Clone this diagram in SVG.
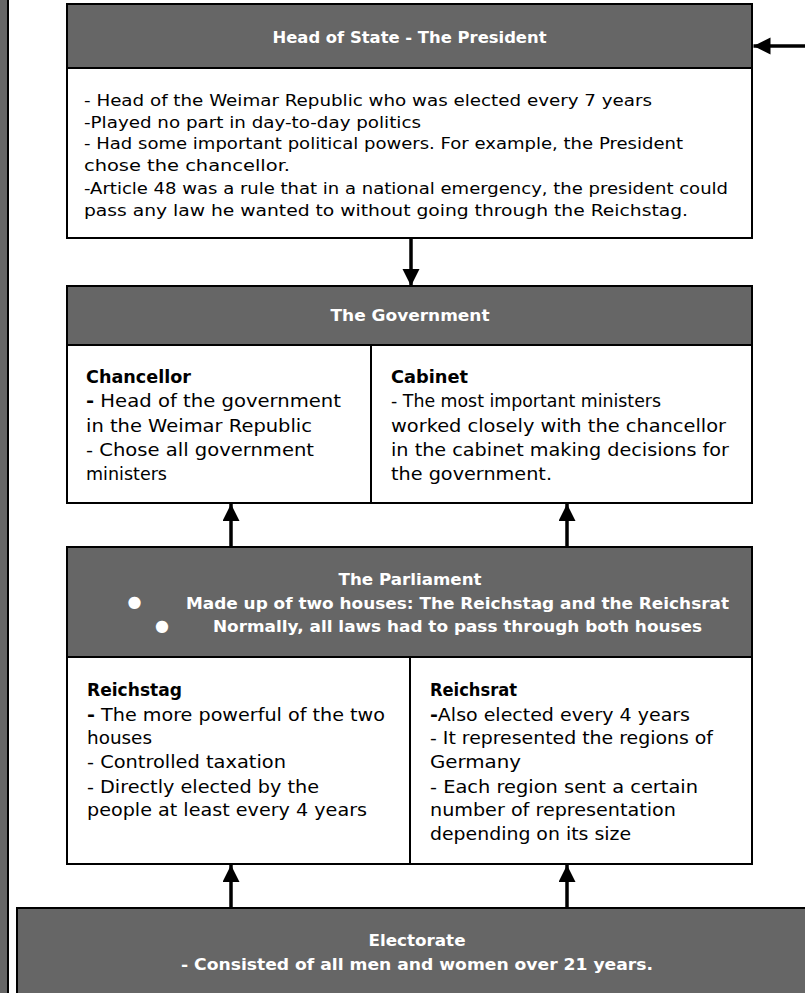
<svg xmlns="http://www.w3.org/2000/svg" width="805" height="993" viewBox="0 0 805 993">
<defs>
<style>
.hdr{fill:#666666;stroke:#000;stroke-width:2}
.body{fill:#ffffff;stroke:#000;stroke-width:2}
.div{stroke:#000;stroke-width:2}
.t{font-family:"DejaVu Sans","Liberation Sans",sans-serif;fill:#000}
.s15{font-size:16px}
.s16{font-size:17px}
.b{font-weight:bold}
.w{fill:#ffffff;font-weight:bold;font-family:"DejaVu Sans","Liberation Sans",sans-serif;font-size:16px}
.conn{stroke:#000;stroke-width:3.5;fill:none}
</style>
<marker id="ah" markerUnits="userSpaceOnUse" markerWidth="18" markerHeight="18" refX="17" refY="8.5" orient="auto">
<path d="M0,0 L17,8.5 L0,17 Z" fill="#000"/>
</marker>
</defs>
<rect width="805" height="993" fill="#ffffff"/>

<g id="left-panel">
<rect x="-20" y="-5" width="28" height="1010" class="hdr"/>
</g>

<g id="president">
<rect x="67" y="68" width="685" height="170" class="body"/>
<rect x="67" y="4" width="685" height="64" class="hdr"/>
<text x="409.5" y="43" class="w" text-anchor="middle" textLength="274" lengthAdjust="spacingAndGlyphs">Head of State - The President</text>
<text class="t s15" x="84" y="105.5" textLength="568" lengthAdjust="spacingAndGlyphs">- Head of the Weimar Republic who was elected every 7 years</text>
<text class="t s15" x="84" y="127.5" textLength="337" lengthAdjust="spacingAndGlyphs">-Played no part in day-to-day politics</text>
<text class="t s15" x="84" y="148.5" textLength="599" lengthAdjust="spacingAndGlyphs">- Had some important political powers. For example, the President</text>
<text class="t s15" x="84" y="170.5" textLength="206" lengthAdjust="spacingAndGlyphs">chose the chancellor.</text>
<text class="t s15" x="84" y="193.5" textLength="644" lengthAdjust="spacingAndGlyphs">-Article 48 was a rule that in a national emergency, the president could</text>
<text class="t s15" x="84" y="215.5" textLength="604" lengthAdjust="spacingAndGlyphs">pass any law he wanted to without going through the Reichstag.</text>
</g>

<g id="government">
<rect x="67" y="345" width="685" height="158" class="body"/>
<rect x="67" y="286" width="685" height="59" class="hdr"/>
<line x1="371" y1="345" x2="371" y2="503" class="div"/>
<text x="410" y="320.5" class="w" text-anchor="middle" textLength="159" lengthAdjust="spacingAndGlyphs">The Government</text>
<text class="t s16 b" x="86" y="383" textLength="105" lengthAdjust="spacingAndGlyphs">Chancellor</text>
<text class="t s16" x="86" y="407" textLength="255" lengthAdjust="spacingAndGlyphs"><tspan font-weight="bold">-</tspan> Head of the government</text>
<text class="t s16" x="86" y="431.5" textLength="226" lengthAdjust="spacingAndGlyphs">in the Weimar Republic</text>
<text class="t s16" x="86" y="455.5" textLength="228" lengthAdjust="spacingAndGlyphs">- Chose all government</text>
<text class="t s16" x="86" y="479.5" textLength="81" lengthAdjust="spacingAndGlyphs">ministers</text>
<text class="t s16 b" x="391" y="383" textLength="77" lengthAdjust="spacingAndGlyphs">Cabinet</text>
<text class="t s16" x="391" y="407" textLength="270" lengthAdjust="spacingAndGlyphs">- The most important ministers</text>
<text class="t s16" x="391" y="431.5" textLength="335" lengthAdjust="spacingAndGlyphs">worked closely with the chancellor</text>
<text class="t s16" x="391" y="455.5" textLength="338" lengthAdjust="spacingAndGlyphs">in the cabinet making decisions for</text>
<text class="t s16" x="391" y="479.5" textLength="161" lengthAdjust="spacingAndGlyphs">the government.</text>
</g>

<g id="parliament">
<rect x="67" y="657" width="685" height="207" class="body"/>
<rect x="67" y="547" width="685" height="110" class="hdr"/>
<line x1="410" y1="657" x2="410" y2="864" class="div"/>
<text x="410" y="584.5" class="w" text-anchor="middle" textLength="143" lengthAdjust="spacingAndGlyphs">The Parliament</text>
<text x="134.5" y="607" class="w" text-anchor="middle" font-size="8px">●</text>
<text x="186" y="608.5" class="w" textLength="543" lengthAdjust="spacingAndGlyphs">Made up of two houses: The Reichstag and the Reichsrat</text>
<text x="162" y="630.5" class="w" text-anchor="middle" font-size="8px">●</text>
<text x="213" y="632" class="w" textLength="489" lengthAdjust="spacingAndGlyphs">Normally, all laws had to pass through both houses</text>
<text class="t s16 b" x="87" y="696" textLength="95" lengthAdjust="spacingAndGlyphs">Reichstag</text>
<text class="t s16" x="87" y="720.5" textLength="298" lengthAdjust="spacingAndGlyphs"><tspan font-weight="bold">-</tspan> The more powerful of the two</text>
<text class="t s16" x="87" y="743.5" textLength="65" lengthAdjust="spacingAndGlyphs">houses</text>
<text class="t s16" x="87" y="767.5" textLength="199" lengthAdjust="spacingAndGlyphs">- Controlled taxation</text>
<text class="t s16" x="87" y="792.5" textLength="232" lengthAdjust="spacingAndGlyphs">- Directly elected by the</text>
<text class="t s16" x="87" y="815.5" textLength="280" lengthAdjust="spacingAndGlyphs">people at least every 4 years</text>
<text class="t s16 b" x="430" y="696" textLength="87" lengthAdjust="spacingAndGlyphs">Reichsrat</text>
<text class="t s16" x="430" y="720.5" textLength="260" lengthAdjust="spacingAndGlyphs"><tspan font-weight="bold">-</tspan>Also elected every 4 years</text>
<text class="t s16" x="430" y="743.5" textLength="283" lengthAdjust="spacingAndGlyphs">- It represented the regions of</text>
<text class="t s16" x="430" y="767.5" textLength="91" lengthAdjust="spacingAndGlyphs">Germany</text>
<text class="t s16" x="430" y="792.5" textLength="268" lengthAdjust="spacingAndGlyphs">- Each region sent a certain</text>
<text class="t s16" x="430" y="815.5" textLength="246" lengthAdjust="spacingAndGlyphs">number of representation</text>
<text class="t s16" x="430" y="840" textLength="201" lengthAdjust="spacingAndGlyphs">depending on its size</text>
</g>

<g id="electorate">
<rect x="17" y="908" width="820" height="100" class="hdr"/>
<text x="417" y="946" class="w" text-anchor="middle" textLength="97" lengthAdjust="spacingAndGlyphs">Electorate</text>
<text x="417" y="969.5" class="w" text-anchor="middle" textLength="472" lengthAdjust="spacingAndGlyphs">- Consisted of all men and women over 21 years.</text>
</g>

<g id="connectors">
<line x1="806" y1="46" x2="753.5" y2="46" class="conn" marker-end="url(#ah)"/>
<line x1="411" y1="239" x2="411" y2="286" class="conn" marker-end="url(#ah)"/>
<line x1="231" y1="547" x2="231" y2="504" class="conn" marker-end="url(#ah)"/>
<line x1="567" y1="547" x2="567" y2="504" class="conn" marker-end="url(#ah)"/>
<line x1="231" y1="908" x2="231" y2="865" class="conn" marker-end="url(#ah)"/>
<line x1="567" y1="908" x2="567" y2="865" class="conn" marker-end="url(#ah)"/>
</g>
</svg>
